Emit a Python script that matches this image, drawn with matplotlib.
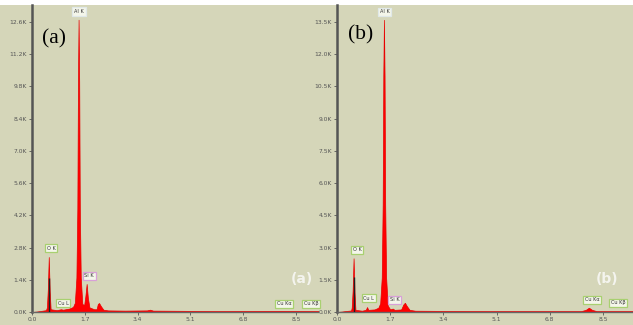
import matplotlib
matplotlib.use("Agg")
import matplotlib.pyplot as plt
from matplotlib.patches import Rectangle

# ---- data (energy keV, counts in K) ----
energy_a = [0.00, 0.15, 0.30, 0.45, 0.48, 0.51, 0.54, 0.57, 0.60, 0.80, 0.93, 1.00,
            1.20, 1.32, 1.38, 1.43, 1.46, 1.48, 1.50, 1.52, 1.54, 1.57, 1.62, 1.68,
            1.72, 1.76, 1.80, 1.85, 2.00, 2.08, 2.12, 2.16, 2.22, 2.30, 2.45, 3.00,
            3.70, 3.80, 3.90, 5.00, 6.00, 8.04, 9.30]
counts_a = [0.00, 0.02, 0.05, 0.08, 0.20, 1.00, 2.39, 0.90, 0.12, 0.08, 0.12, 0.10,
            0.15, 0.22, 0.40, 1.50, 4.50, 10.0, 12.70, 10.0, 4.50, 1.50, 0.35, 0.30,
            0.70, 1.22, 0.60, 0.20, 0.12, 0.12, 0.35, 0.39, 0.25, 0.10, 0.07, 0.06,
            0.07, 0.10, 0.06, 0.05, 0.04, 0.05, 0.04]
marker_a = (0.54, 1.48)

energy_b = [0.00, 0.15, 0.30, 0.45, 0.47, 0.50, 0.53, 0.56, 0.59, 0.80, 0.92, 0.96,
            1.00, 1.20, 1.32, 1.38, 1.43, 1.46, 1.48, 1.50, 1.52, 1.54, 1.57, 1.62,
            1.70, 1.78, 1.84, 2.05, 2.12, 2.17, 2.23, 2.32, 2.50, 3.50, 5.00, 7.80,
            7.95, 8.05, 8.15, 8.30, 9.50]
counts_b = [0.00, 0.02, 0.05, 0.07, 0.20, 1.00, 2.50, 0.90, 0.10, 0.06, 0.10, 0.23,
            0.10, 0.12, 0.20, 0.40, 1.60, 5.00, 11.0, 13.60, 11.0, 5.00, 1.60, 0.30,
            0.12, 0.16, 0.10, 0.12, 0.35, 0.43, 0.28, 0.10, 0.06, 0.05, 0.04, 0.04,
            0.10, 0.20, 0.10, 0.04, 0.04]
marker_b = (0.53, 1.63)

xticks = [0.0, 1.7, 3.4, 5.1, 6.8, 8.5]
yticks_a = [0.0, 1.4, 2.8, 4.2, 5.6, 7.0, 8.4, 9.8, 11.2, 12.6]
yticks_b = [0.0, 1.5, 3.0, 4.5, 6.0, 7.5, 9.0, 10.5, 12.0, 13.5]

labels_a = [("Al K", 1.51, 13.05, "#E0E8E8"), ("O K", 0.61, 2.78, "#A8D070"),
            ("Cu L", 1.00, 0.39, "#A8D070"), ("Si K", 1.84, 1.57, "#D8A0D8"),
            ("Cu K\u03b1", 8.11, 0.35, "#A8D070"), ("Cu K\u03b2", 8.98, 0.35, "#A8D070")]
labels_b = [("Al K", 1.53, 13.97, "#E0E8E8"), ("O K", 0.64, 2.89, "#A8D070"),
            ("Cu L", 1.02, 0.65, "#A8D070"), ("Si K", 1.85, 0.56, "#D8A0D8"),
            ("Cu K\u03b1", 8.15, 0.56, "#A8D070"), ("Cu K\u03b2", 8.98, 0.42, "#A8D070")]

BG = "#D5D6B9"

fig = plt.figure(figsize=(6.33, 3.25), dpi=100)
fig.patch.set_facecolor(BG)
fig.patches.append(Rectangle((0, 320 / 325), 1, 5 / 325, transform=fig.transFigure,
                             facecolor="white", edgecolor="none", zorder=-1))

H = 325.0
W = 633.0
ax_a = fig.add_axes([32 / W, 13 / H, 286 / W, 307 / H])
ax_b = fig.add_axes([337 / W, 13 / H, 296 / W, 307 / H])


def setup(ax, e, c, marker, yticks, xmax, ymax, labels, tag, serif_pos, white_pos):
    ax.set_facecolor(BG)
    ax.fill_between(e, c, 0, color="#FF0000", linewidth=0.5, edgecolor="#E80000", zorder=2)
    ax.vlines(marker[0], 0, marker[1], color="#202020", linewidth=1.0, zorder=3)
    ax.set_xlim(0, xmax)
    ax.set_ylim(0, ymax)
    ax.set_xticks(xticks)
    ax.set_xticklabels([f"{v:.1f}" for v in xticks])
    ax.set_yticks(yticks)
    ax.set_yticklabels([f"{v:.1f}K" for v in yticks])
    ax.tick_params(axis="both", labelsize=4.3, colors="#555555", length=2, width=0.6, pad=1.5)
    for s in ("top", "right"):
        ax.spines[s].set_visible(False)
    ax.spines["left"].set_color("#555555")
    ax.spines["left"].set_linewidth(1.8)
    ax.spines["bottom"].set_color("#666666")
    ax.spines["bottom"].set_linewidth(1.0)
    for txt, x, y, ec in labels:
        ax.text(x, y, txt, fontsize=3.6, ha="center", va="center", color="#333333", zorder=5,
                bbox=dict(boxstyle="square,pad=0.35", facecolor="#F4F6EA", edgecolor=ec, linewidth=0.9))
    ax.text(serif_pos[0], serif_pos[1], f"({tag})", transform=ax.transAxes, fontsize=15.5,
            family="Liberation Serif", ha="left", va="center", color="black")
    ax.text(white_pos[0], white_pos[1], f"({tag})", transform=ax.transAxes, fontsize=10,
            fontweight="bold", ha="center", va="center", color="#F4F4EE", zorder=5)


setup(ax_a, energy_a, counts_a, marker_a, yticks_a, 9.21, 13.34, labels_a, "a",
      (0.036, 0.889), (0.944, 0.107))
setup(ax_b, energy_b, counts_b, marker_b, yticks_b, 9.46, 14.29, labels_b, "b",
      (0.038, 0.902), (0.912, 0.107))

fig.savefig("out.png", dpi=100, facecolor=fig.get_facecolor())
